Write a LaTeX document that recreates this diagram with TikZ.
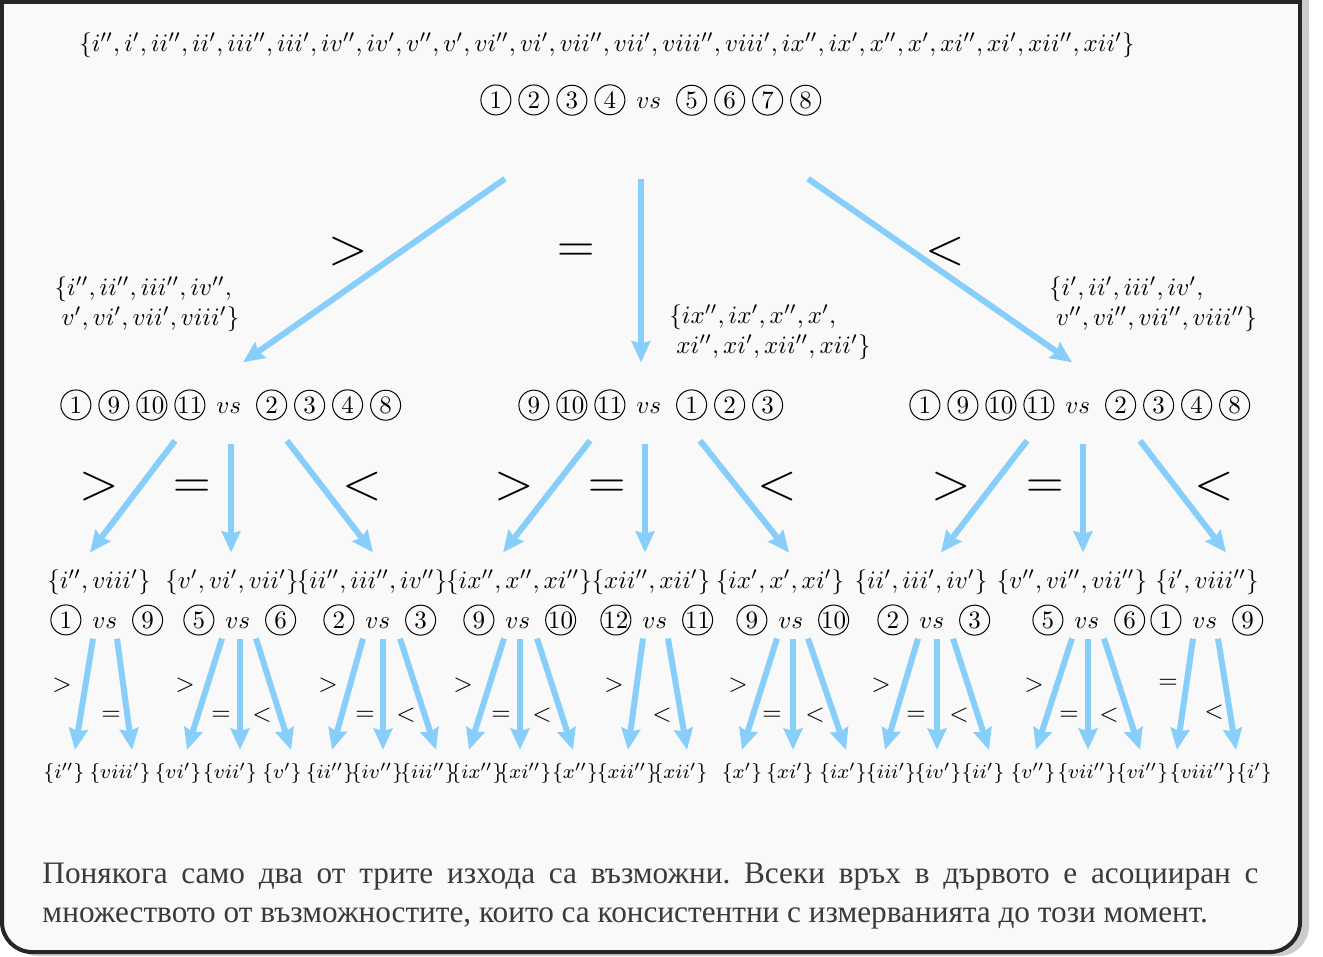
\documentclass[tikz,border=0pt]{standalone}
\usepackage{fontspec}
\newfontfamily\cyrfont{Liberation Serif}
\usetikzlibrary{arrows.meta,calc}
\definecolor{arrowblue}{HTML}{87CEFA}
\definecolor{boxfill}{HTML}{F9F9F9}
\definecolor{boxline}{HTML}{262626}
\definecolor{captext}{HTML}{3A3A3A}
\tikzset{cnum/.style={circle,draw,inner sep=0pt,minimum size=12pt,anchor=center,line width=0.4pt}}
\newcommand\cn[1]{\hspace{1.4pt}\tikz[baseline=(cn.base)]\node[cnum](cn){\makebox[0pt]{#1}};\hspace{1.4pt}}
\newcommand\versus{\hspace{3pt}$vs$\hspace{4.6pt}}
\frenchspacing
\begin{document}
\begin{tikzpicture}[x=0.4pt,y=-0.4pt,
  arr/.style={draw=arrowblue,line width=2.4pt,-{Stealth[length=8.5pt,width=7.5pt,inset=1pt]}},
  bigrel/.style={font=\huge},
  relsign/.style={inner sep=1pt},
  cmp/.style={inner sep=1pt},
  setnode/.style={inner sep=1pt},
  leaf/.style={font=\footnotesize,inner sep=1pt}]
\useasboundingbox (0,0) rectangle (1323,956);
% frame
\fill[black!20,rounded corners=12] (8,0) rectangle (1309,956);
\fill[black!20] (8,0) rectangle (1309,100);
\fill[boxfill,rounded corners=12] (2,2) rectangle (1300,952);
\fill[boxfill] (2,2) rectangle (1300,100);
\draw[boxline,line width=1.6pt] (2,200) -- (2,2) -- (1300,2) -- (1300,200);
\draw[boxline,line width=1.6pt,rounded corners=12] (1300,200) -- (1300,952) -- (2,952) -- (2,200);

% root
\node (all) at (607,45) {$\{i'', i', ii'', ii', iii'', iii', iv'', iv', v'', v', vi'', vi', vii'', vii', viii'', viii', ix'', ix', x'', x', xi'', xi', xii'', xii'\}$};
\node[cmp] (w) at (649,100) {\cn{1}\cn{2}\cn{3}\cn{4}\versus\cn{5}\cn{6}\cn{7}\cn{8}};

% second level
\node[cmp] (wl) at (229,405) {\cn{1}\cn{9}\cn{10}\cn{11}\versus\cn{2}\cn{3}\cn{4}\cn{8}};
\node[cmp] (wm) at (649,405) {\cn{9}\cn{10}\cn{11}\versus\cn{1}\cn{2}\cn{3}};
\node[cmp] (wr) at (1078,405) {\cn{1}\cn{9}\cn{10}\cn{11}\versus\cn{2}\cn{3}\cn{4}\cn{8}};
\node[setnode,align=left] (sl) at (147,304) {$\{i'', ii'', iii'', iv'',$\\$\;v', vi', vii', viii'\}$};
\node[setnode,align=left] (sm) at (770,332) {$\{ix'', ix', x'', x',$\\$\;xi'', xi', xii'', xii'\}$};
\node[setnode,align=left] (sr) at (1153,304) {$\{i', ii', iii', iv',$\\$\;v'', vi'', vii'', viii''\}$};
\draw[arr] ($(w.south)+(-144,60)$) -- ($(wl.north)+(14,-24)$);
\draw[arr] ($(w.south)+(-8,60)$) -- ($(wm.north)+(-8,-24)$);
\draw[arr] ($(w.south)+(159,60)$) -- ($(wr.north)+(-6,-24)$);
\node[bigrel] (g0) at (348,252) {$>$};
\node[bigrel] (e0) at (576,253) {$=$};
\node[bigrel] (l0) at (945,252) {$<$};

% third level
\node[setnode] (s1) at (99,582) {$\{i'', viii'\}$};
\node[setnode] (s2) at (232,582) {$\{v', vi', vii'\}$};
\node[setnode] (s3) at (372,582) {$\{ii'', iii'', iv''\}$};
\node[setnode] (s4) at (519,582) {$\{ix'', x'', xi''\}$};
\node[setnode] (s5) at (651,582) {$\{xii'', xii'\}$};
\node[setnode] (s6) at (780,582) {$\{ix', x', xi'\}$};
\node[setnode] (s7) at (921,582) {$\{ii', iii', iv'\}$};
\node[setnode] (s8) at (1072,582) {$\{v'', vi'', vii''\}$};
\node[setnode] (s9) at (1207,582) {$\{i', viii''\}$};
\node[cmp] (c1) at (105,620) {\cn{1}\versus\cn{9}};
\node[cmp] (c2) at (238,620) {\cn{5}\versus\cn{6}};
\node[cmp] (c3) at (378,620) {\cn{2}\versus\cn{3}};
\node[cmp] (c4) at (518,620) {\cn{9}\versus\cn{10}};
\node[cmp] (c5) at (655,620) {\cn{12}\versus\cn{11}};
\node[cmp] (c6) at (791,620) {\cn{9}\versus\cn{10}};
\node[cmp] (c7) at (932,620) {\cn{2}\versus\cn{3}};
\node[cmp] (c8) at (1087,620) {\cn{5}\versus\cn{6}};
\node[cmp] (c9) at (1205,620) {\cn{1}\versus\cn{9}};
\draw[arr] ($(wl.south)+(-54,17)$) -- ($(s1.north)+(-9,-14)$);
\draw[arr] ($(wl.south)+(2,20)$) -- ($(s2.north)+(-1,-14)$);
\draw[arr] ($(wl.south)+(58,17)$) -- ($(s3.north)+(1,-14)$);
\draw[arr] ($(wm.south)+(-59,17)$) -- ($(s4.north)+(-16,-14)$);
\draw[arr] ($(wm.south)+(-4,20)$) -- ($(s5.north)+(-6,-14)$);
\draw[arr] ($(wm.south)+(51,17)$) -- ($(s6.north)+(9,-14)$);
\draw[arr] ($(wr.south)+(-51,17)$) -- ($(s7.north)+(20,-14)$);
\draw[arr] ($(wr.south)+(5,20)$) -- ($(s8.north)+(11,-14)$);
\draw[arr] ($(wr.south)+(62,17)$) -- ($(s9.north)+(19,-14)$);
\node[bigrel] (gl) at (99,487) {$>$};
\node[bigrel] (el) at (192,489) {$=$};
\node[bigrel] (ll) at (362,487) {$<$};
\node[bigrel] (gm) at (514,487) {$>$};
\node[bigrel] (em) at (607,489) {$=$};
\node[bigrel] (lm) at (777,487) {$<$};
\node[bigrel] (gr) at (951,487) {$>$};
\node[bigrel] (er) at (1045,489) {$=$};
\node[bigrel] (lr) at (1214,487) {$<$};

% leaves
\node[leaf] (l1) at (64,773) {$\{i''\}$};
\node[leaf] (l2) at (120,773) {$\{viii'\}$};
\node[leaf] (l3) at (178,773) {$\{vi'\}$};
\node[leaf] (l4) at (230,773) {$\{vii'\}$};
\node[leaf] (l5) at (282,773) {$\{v'\}$};
\node[leaf] (l6) at (330,773) {$\{ii''\}$};
\node[leaf] (l7) at (377,773) {$\{iv''\}$};
\node[leaf] (l8) at (428,773) {$\{iii''\}$};
\node[leaf] (l9) at (477,773) {$\{ix''\}$};
\node[leaf] (l10) at (525,773) {$\{xi''\}$};
\node[leaf] (l11) at (575,773) {$\{x''\}$};
\node[leaf] (l12) at (627,773) {$\{xii''\}$};
\node[leaf] (l13) at (680,773) {$\{xii'\}$};
\node[leaf] (l14) at (742,773) {$\{x'\}$};
\node[leaf] (l15) at (790,773) {$\{xi'\}$};
\node[leaf] (l16) at (843,773) {$\{ix'\}$};
\node[leaf] (l17) at (891,773) {$\{iii'\}$};
\node[leaf] (l18) at (938,773) {$\{iv'\}$};
\node[leaf] (l19) at (983,773) {$\{ii'\}$};
\node[leaf] (l20) at (1033,773) {$\{v''\}$};
\node[leaf] (l21) at (1087,773) {$\{vii''\}$};
\node[leaf] (l22) at (1142,773) {$\{vi''\}$};
\node[leaf] (l23) at (1203,773) {$\{viii''\}$};
\node[leaf] (l24) at (1254,773) {$\{i'\}$};
\draw[arr] ($(c1.south)+(-12,0)$) -- ($(l1.north)+(11,-10)$);
\draw[arr] ($(c1.south)+(12,0)$) -- ($(l2.north)+(12,-10)$);
\draw[arr] ($(c2.south)+(-16,0)$) -- ($(l3.north)+(9,-10)$);
\draw[arr] ($(c2.south)+(2,0)$) -- ($(l4.north)+(10,-10)$);
\draw[arr] ($(c2.south)+(18,0)$) -- ($(l5.north)+(9,-10)$);
\draw[arr] ($(c3.south)+(-15,0)$) -- ($(l6.north)+(2,-10)$);
\draw[arr] ($(c3.south)+(5,0)$) -- ($(l7.north)+(6,-10)$);
\draw[arr] ($(c3.south)+(22,0)$) -- ($(l8.north)+(8,-10)$);
\draw[arr] ($(c4.south)+(-14,0)$) -- ($(l9.north)+(-8,-10)$);
\draw[arr] ($(c4.south)+(2,0)$) -- ($(l10.north)+(-5,-10)$);
\draw[arr] ($(c4.south)+(19,0)$) -- ($(l11.north)+(-2,-10)$);
\draw[arr] ($(c5.south)+(-12,0)$) -- ($(l12.north)+(1,-10)$);
\draw[arr] ($(c5.south)+(13,0)$) -- ($(l13.north)+(7,-10)$);
\draw[arr] ($(c6.south)+(-14,0)$) -- ($(l14.north)+(0,-10)$);
\draw[arr] ($(c6.south)+(2,0)$) -- ($(l15.north)+(3,-10)$);
\draw[arr] ($(c6.south)+(17,0)$) -- ($(l16.north)+(3,-10)$);
\draw[arr] ($(c7.south)+(-14,0)$) -- ($(l17.north)+(-6,-10)$);
\draw[arr] ($(c7.south)+(5,0)$) -- ($(l18.north)+(-1,-10)$);
\draw[arr] ($(c7.south)+(21,0)$) -- ($(l19.north)+(6,-10)$);
\draw[arr] ($(c8.south)+(-15,0)$) -- ($(l20.north)+(3,-10)$);
\draw[arr] ($(c8.south)+(1,0)$) -- ($(l21.north)+(1,-10)$);
\draw[arr] ($(c8.south)+(17,0)$) -- ($(l22.north)+(-2,-10)$);
\draw[arr] ($(c9.south)+(-12,0)$) -- ($(l23.north)+(-26,-10)$);
\draw[arr] ($(c9.south)+(13,0)$) -- ($(l24.north)+(-18,-10)$);
\node[relsign] (g1) at (62,685) {$>$};
\node[relsign] (e1) at (111,716) {$=$};
\node[relsign] (g2) at (185,685) {$>$};
\node[relsign] (e2) at (221,716) {$=$};
\node[relsign] (k2) at (262,715) {$<$};
\node[relsign] (g3) at (328,685) {$>$};
\node[relsign] (e3) at (365,716) {$=$};
\node[relsign] (k3) at (406,715) {$<$};
\node[relsign] (g4) at (463,685) {$>$};
\node[relsign] (e4) at (501,716) {$=$};
\node[relsign] (k4) at (542,715) {$<$};
\node[relsign] (g5) at (614,685) {$>$};
\node[relsign] (k5) at (662,715) {$<$};
\node[relsign] (g6) at (738,685) {$>$};
\node[relsign] (e6) at (772,716) {$=$};
\node[relsign] (k6) at (815,715) {$<$};
\node[relsign] (g7) at (881,685) {$>$};
\node[relsign] (e7) at (916,716) {$=$};
\node[relsign] (k7) at (959,715) {$<$};
\node[relsign] (g8) at (1034,685) {$>$};
\node[relsign] (e8) at (1069,716) {$=$};
\node[relsign] (k8) at (1109,715) {$<$};
\node[relsign] (e9) at (1168,684) {$=$};
\node[relsign] (k9) at (1214,712) {$<$};

% caption
\node[anchor=north west,inner sep=0pt,text width=486.4pt,align=justify,text=captext,
  font=\cyrfont\fontsize{12.5}{15.6}\selectfont] (cap) at (42,863)
  {Понякога само два от трите изхода са възможни. Всеки връх в дървото е асоцииран с\linebreak
   множеството от възможностите, които са консистентни с измерванията до този момент.};
\end{tikzpicture}
\end{document}
